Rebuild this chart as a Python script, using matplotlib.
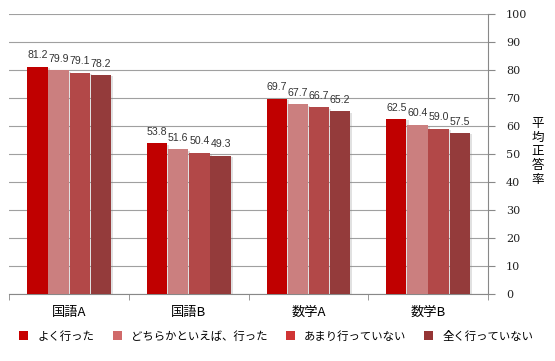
import numpy as np
import matplotlib.pyplot as plt
import matplotlib.patheffects as pe
from matplotlib.patches import Patch

plt.rcParams['font.family'] = ['Noto Sans CJK JP', 'DejaVu Sans']

categories = ['国語A', '国語B', '数学A', '数学B']
series = ['よく行った', 'どちらかといえば、行った', 'あまり行っていない', '全く行っていない']
values = [
    [81.2, 53.8, 69.7, 62.5],
    [79.9, 51.6, 67.7, 60.4],
    [79.1, 50.4, 66.7, 59.0],
    [78.2, 49.3, 65.2, 57.5],
]
labels = [
    ['81.2', '53.8', '69.7', '62.5'],
    ['79.9', '51.6', '67.7', '60.4'],
    ['79.1', '50.4', '66.7', '59.0'],
    ['78.2', '49.3', '65.2', '57.5'],
]
colors = ['#C00000', '#CB7F7F', '#B24848', '#943B3B']
legend_colors = ['#C80000', '#D06A6A', '#D03535', '#953535']

fig = plt.figure(figsize=(5.55, 3.61), dpi=100)
ax = fig.add_axes([0.017, 0.186, 0.862, 0.775])

x = np.arange(len(categories))
w = 0.177
shadow = [pe.SimplePatchShadow(offset=(1.5, -1), shadow_rgbFace='#888888', alpha=0.25), pe.Normal()]
for i in range(4):
    pos = x + (i - 1.5) * w
    ax.bar(pos, values[i], width=w * 0.96, color=colors[i], zorder=3, path_effects=shadow)
    for p, v, t in zip(pos, values[i], labels[i]):
        ax.text(p, v + 2.3, t, ha='center', va='bottom', fontsize=7.6,
                color='#333333', family='Liberation Sans')

ax.set_xlim(-0.5, 3.5)
ax.set_ylim(0, 100)
ax.set_yticks(range(0, 101, 10))
ax.yaxis.tick_right()
ax.tick_params(axis='y', labelsize=8, length=5, color='#888888', labelcolor='#222222', pad=8)
for lab in ax.get_yticklabels():
    lab.set_family('DejaVu Serif')
ax.set_xticks(x)
ax.set_xticklabels(categories, fontsize=9.5)
ax.set_xticks(np.arange(-0.5, 4, 1), minor=True)
ax.tick_params(axis='x', which='major', length=0, pad=9)
ax.tick_params(axis='x', which='minor', length=4, color='#888888')
ax.grid(axis='y', color='#A0A0A0', linewidth=0.8, zorder=0)
for s in ['top', 'left']:
    ax.spines[s].set_visible(False)
ax.spines['right'].set_color('#888888')
ax.spines['bottom'].set_color('#888888')

fig.text(0.969, 0.58, '平\n均\n正\n答\n率', fontsize=9, ha='center', va='center', linespacing=1.1)

handles = [Patch(facecolor=c) for c in legend_colors]
fig.legend(handles, series, loc='center', bbox_to_anchor=(0.498, 0.069), ncol=4,
           frameon=False, fontsize=8.2, handlelength=0.8, handleheight=0.8,
           handletextpad=0.8, columnspacing=1.6, borderaxespad=0, borderpad=0)

fig.savefig('out.png', dpi=100)
